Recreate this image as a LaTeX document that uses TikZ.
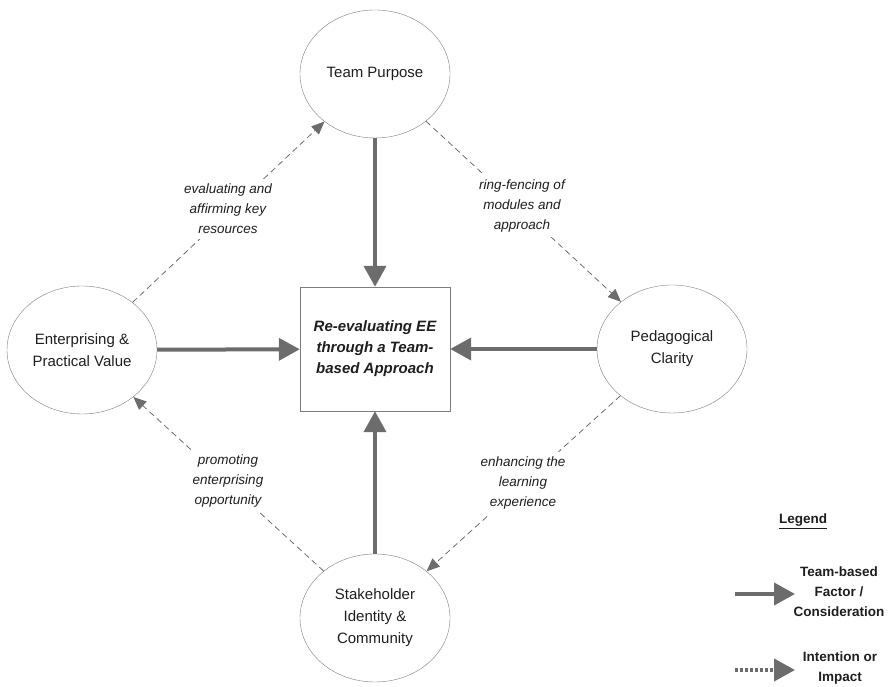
\documentclass[tikz,border=0pt]{standalone}
\usepackage{fontspec}
\setmainfont{Liberation Sans}
\usetikzlibrary{arrows.meta,shapes.geometric}
\definecolor{grisf}{RGB}{108,108,108}
\definecolor{grisb}{RGB}{125,125,125}
\definecolor{tinta}{RGB}{30,30,30}
\tikzset{
  elip/.style={draw=grisb, ellipse, align=center, minimum width=150pt, minimum height=128pt, inner sep=0pt, text=tinta, font=\fontsize{15}{22}\selectfont},
  caja/.style={draw=grisb, rectangle, align=center, minimum width=150pt, minimum height=124pt, inner sep=0pt, text=tinta, font=\fontsize{15}{21}\selectfont\bfseries\itshape},
  fl/.style={-{Triangle[length=21pt, width=22pt]}, line width=4pt, grisf},
  fld/.style={-{Triangle[length=13pt, width=11pt]}, line width=0.8pt, dash pattern=on 6pt off 4pt, grisf},
  fldot/.style={-{Triangle[length=21pt, width=22pt]}, line width=4pt, grisf, dash pattern=on 3pt off 2pt},
  et/.style={fill=white, align=center, inner sep=5pt, text=tinta, font=\fontsize{13.5}{20}\selectfont\itshape},
  ley/.style={align=center, text=tinta, font=\fontsize{13.5}{20}\selectfont\bfseries},
}
\begin{document}
\begin{tikzpicture}[x=1pt, y=1pt]
  \useasboundingbox (0,0) rectangle (889,687);
  % factores
  \node[elip] (tp) at (375,613) {Team Purpose};
  \node[elip] (ev) at (82,337) {Enterprising \&\\ Practical Value};
  \node[elip] (pc) at (672,338) {Pedagogical\\ Clarity};
  \node[elip] (sic) at (375,69) {Stakeholder\\ Identity \&\\ Community};
  \node[caja] (eje) at (375,338) {Re-evaluating EE\\ through a Team-\\ based Approach};
  % intenciones
  \draw[fld] (ev) -- (tp);
  \draw[fld] (tp) -- (pc);
  \draw[fld] (pc) -- (sic);
  \draw[fld] (sic) -- (ev);
  \node[et] (l1) at (228,478) {evaluating and\\ affirming key\\ resources};
  \node[et] (l2) at (522,481) {ring-fencing of\\ modules and\\ approach};
  \node[et] (l3) at (523,204) {enhancing the\\ learning\\ experience};
  \node[et] (l4) at (228,206) {promoting\\ enterprising\\ opportunity};
  \draw[fl] (tp) -- (eje);
  \draw[fl] (ev) -- (eje);
  \draw[fl] (pc) -- (eje);
  \draw[fl] (sic) -- (eje);
  % leyenda
  \node[ley] (ltit) at (803,166) {\underline{Legend}};
  \coordinate (a1) at (735,93);
  \coordinate (a2) at (795,93);
  \coordinate (b1) at (735,17);
  \coordinate (b2) at (795,17);
  \draw[fl] (a1) -- (a2);
  \draw[fldot] (b1) -- (b2);
  \node[ley] (lf) at (839,95) {Team-based\\ Factor /\\ Consideration};
  \node[ley] (li) at (840,19) {Intention or\\ Impact};
\end{tikzpicture}
\end{document}
